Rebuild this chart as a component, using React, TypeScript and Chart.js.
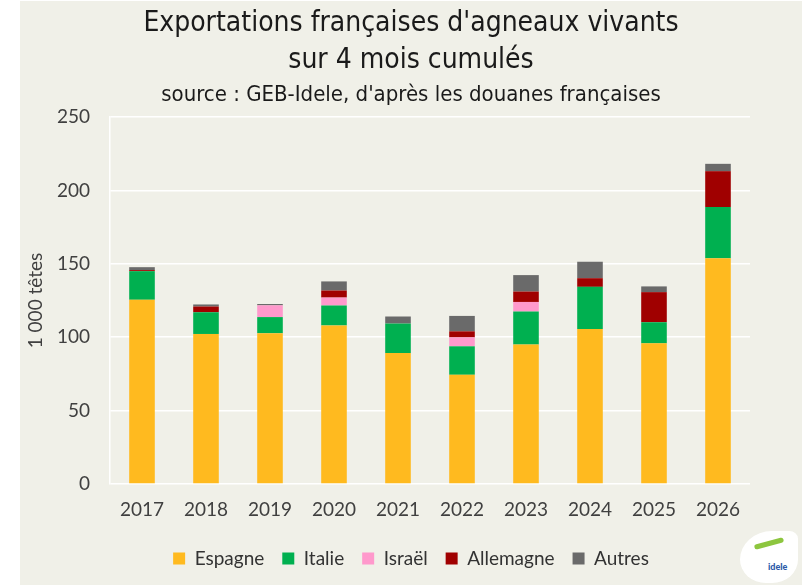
import React, { useEffect, useRef } from "react";
import { Chart, registerables } from "chart.js";

Chart.register(...registerables);

const categories = ["2017", "2018", "2019", "2020", "2021", "2022", "2023", "2024", "2025", "2026"];
const espagne = [125.5, 102.2, 102.7, 108, 89.2, 74.4, 95, 105.6, 95.8, 153.7];
const italie = [19.5, 14.8, 11, 13.6, 20.1, 19.4, 22.5, 28.7, 14.4, 35];
const israel = [0, 0, 8, 5.4, 0, 6.1, 6.5, 0, 0, 0];
const allemagne = [0.7, 3.9, 0, 4.8, 0, 4.1, 7.1, 5.9, 20.5, 24.4];
const autres = [2, 1.4, 0.9, 6.2, 4.8, 10.5, 11.2, 11.2, 3.9, 5];
const yTicks = [0, 50, 100, 150, 200, 250];

const titleLines = ["Exportations françaises d'agneaux vivants", "sur 4 mois cumulés"];
const subtitleText = "source : GEB-Idele, d'après les douanes françaises";
const yTitle = "1 000 têtes";

const seriesNames = ["Espagne", "Italie", "Israël", "Allemagne", "Autres"];
const seriesColors = ["#FFBA1F", "#00B050", "#FF99CC", "#A00000", "#6A6A6A"];

export default function App() {
  const ref = useRef<HTMLCanvasElement>(null);

  useEffect(() => {
    const values = [espagne, italie, israel, allemagne, autres];
    const condensed = "'DejaVu Sans Condensed', 'DejaVu Sans', sans-serif";
    const chart = new Chart(ref.current as HTMLCanvasElement, {
      type: "bar",
      data: {
        labels: categories,
        datasets: values.map((d, i) => ({
          label: seriesNames[i],
          data: d,
          backgroundColor: seriesColors[i],
          borderWidth: 0,
          barPercentage: 0.4,
          categoryPercentage: 1,
          yAxisID: "y",
        })),
      },
      options: {
        responsive: false,
        animation: false,
        layout: { padding: { left: 0, right: 0, top: 0, bottom: 7 } },
        plugins: {
          title: {
            display: true,
            text: titleLines,
            color: "#1a1a1a",
            font: { family: condensed, size: 28, weight: "normal", lineHeight: 1.3 },
            padding: { top: 5, bottom: 0 },
          },
          subtitle: {
            display: true,
            text: subtitleText,
            color: "#1a1a1a",
            font: { family: condensed, size: 22, weight: "normal", lineHeight: 1.2 },
            padding: { top: 3, bottom: 8.8 },
          },
          legend: {
            position: "bottom",
            labels: {
              boxWidth: 12,
              boxHeight: 12,
              padding: 18,
              color: "#333333",
              font: { family: "Lato", size: 19 },
            },
          },
          tooltip: { enabled: false },
        },
        scales: {
          x: {
            stacked: true,
            grid: { display: false, drawTicks: false },
            border: { display: false },
            ticks: { padding: 14, color: "#404040", font: { family: "Lato", size: 19 } },
            afterFit: (s: any) => {
              s.height = 47;
            },
          },
          y: {
            stacked: true,
            min: 0,
            max: 250,
            afterBuildTicks: (s: any) => {
              s.ticks = yTicks.map((v) => ({ value: v }));
            },
            ticks: { padding: 20, color: "#404040", font: { family: "Lato", size: 19 } },
            grid: { color: "#ffffff", lineWidth: 1.5, drawTicks: false },
            border: { display: true, color: "#ffffff", width: 1.5 },
            title: {
              display: true,
              text: yTitle,
              color: "#404040",
              font: { family: "Lato", size: 19 },
              padding: { top: 4.6, bottom: 0 },
            },
            afterFit: (s: any) => {
              s.width = 90;
            },
          },
          yRight: {
            type: "linear",
            position: "right",
            display: true,
            grid: { display: false, drawTicks: false },
            border: { display: false },
            ticks: { display: false },
            afterFit: (s: any) => {
              s.width = 52;
            },
          },
        },
      },
    });
    return () => chart.destroy();
  }, []);

  return (
    <div style={{ position: "fixed", left: 0, top: 0, width: 808, height: 585, background: "#ffffff", overflow: "hidden" }}>
      <div style={{ position: "absolute", left: 20, top: 1, width: 782, height: 584, background: "#F0F0E8" }}>
        <canvas ref={ref} width={782} height={584} style={{ display: "block" }} />
      </div>
      <div
        style={{
          position: "absolute",
          left: 740,
          top: 531,
          width: 58,
          height: 52,
          background: "#ffffff",
          borderRadius: "55% 15% 45% 45%",
        }}
      >
        <div style={{ position: "absolute", left: 14, top: 10, width: 30, height: 5, background: "#8DC63F", borderRadius: 3, transform: "rotate(-15deg)" }} />
        <div style={{ position: "absolute", left: 28, top: 30, fontFamily: "Lato", fontWeight: 900, fontSize: 9, color: "#2B59A8" }}>idele</div>
      </div>
    </div>
  );
}
